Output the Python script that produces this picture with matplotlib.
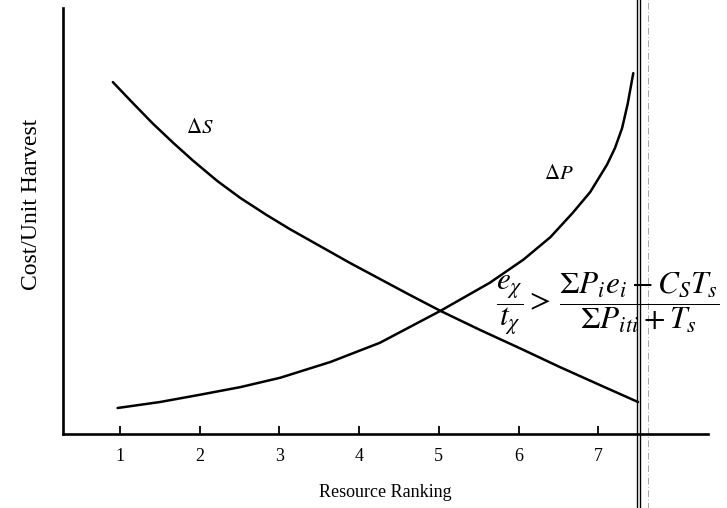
import matplotlib
matplotlib.use("Agg")
import matplotlib.pyplot as plt

plt.rcParams["font.family"] = ["Liberation Serif", "DejaVu Serif"]
plt.rcParams["mathtext.fontset"] = "stix"

# resource ranking positions on the x axis
ranks = [1, 2, 3, 4, 5, 6, 7]

# Delta S curve (falling cost/unit harvest)
s_x = [0.91, 1.16, 1.41, 1.67, 1.92, 2.22, 2.51, 2.84, 3.13, 3.51, 3.89,
       4.26, 4.64, 5.02, 5.52, 6.02, 6.52, 7.02, 7.50]
s_y = [8.26, 7.77, 7.29, 6.83, 6.41, 5.94, 5.54, 5.14, 4.81, 4.41, 4.01,
       3.64, 3.26, 2.89, 2.44, 2.01, 1.57, 1.15, 0.75]

# Delta P curve (rising cost/unit harvest)
p_x = [0.97, 1.50, 2.00, 2.51, 3.01, 3.64, 4.26, 5.02, 5.64, 6.06, 6.40,
       6.68, 6.90, 7.11, 7.21, 7.30, 7.37, 7.44]
p_y = [0.61, 0.75, 0.92, 1.10, 1.32, 1.69, 2.14, 2.89, 3.55, 4.09, 4.62,
       5.19, 5.68, 6.32, 6.71, 7.18, 7.75, 8.47]

fig = plt.figure(figsize=(7.27, 5.08), dpi=100)
ax = fig.add_axes([0.0867, 0.1457, 0.8872, 0.8386])

ax.plot(s_x, s_y, color="black", lw=1.8, solid_capstyle="round")
ax.plot(p_x, p_y, color="black", lw=1.8, solid_capstyle="round")

ax.set_xlim(0.285, 8.378)
ax.set_ylim(0, 10)

for side in ["top", "right"]:
    ax.spines[side].set_visible(False)
for side in ["left", "bottom"]:
    ax.spines[side].set_linewidth(1.9)

ax.set_xticks(ranks)
ax.set_xticklabels([str(r) for r in ranks], fontsize=13)
ax.tick_params(axis="x", direction="in", length=6, width=1.3, pad=10)
ax.set_yticks([])

ax.set_xlabel("Resource Ranking", fontsize=13, labelpad=14)
fig.text(0.043, 0.598, "Cost/Unit Harvest", fontsize=17, rotation=90,
         ha="center", va="center")

ax.text(2.00, 7.18, r"$\Delta S$", fontsize=15, ha="center", va="center")
ax.text(6.50, 6.08, r"$\Delta P$", fontsize=15, ha="center", va="center")

ax.text(5.72, 3.05,
        r"$\dfrac{e_\chi}{t_\chi} >\, \dfrac{\Sigma P_i e_i - C_S T_s}{\Sigma P_{iti} + T_s}$",
        fontsize=22.5, ha="left", va="center")

# page gutter lines
ax.axvline(7.49, ymin=-0.2, ymax=1.03, color="black", lw=1.0, clip_on=False)
ax.axvline(7.53, ymin=-0.2, ymax=1.03, color="black", lw=1.0, clip_on=False)
ax.axvline(7.62, ymin=-0.2, ymax=1.03, color="#999999", lw=0.6,
           ls=(0, (8, 3, 1, 3)), clip_on=False)

fig.savefig("out.png", dpi=100)
